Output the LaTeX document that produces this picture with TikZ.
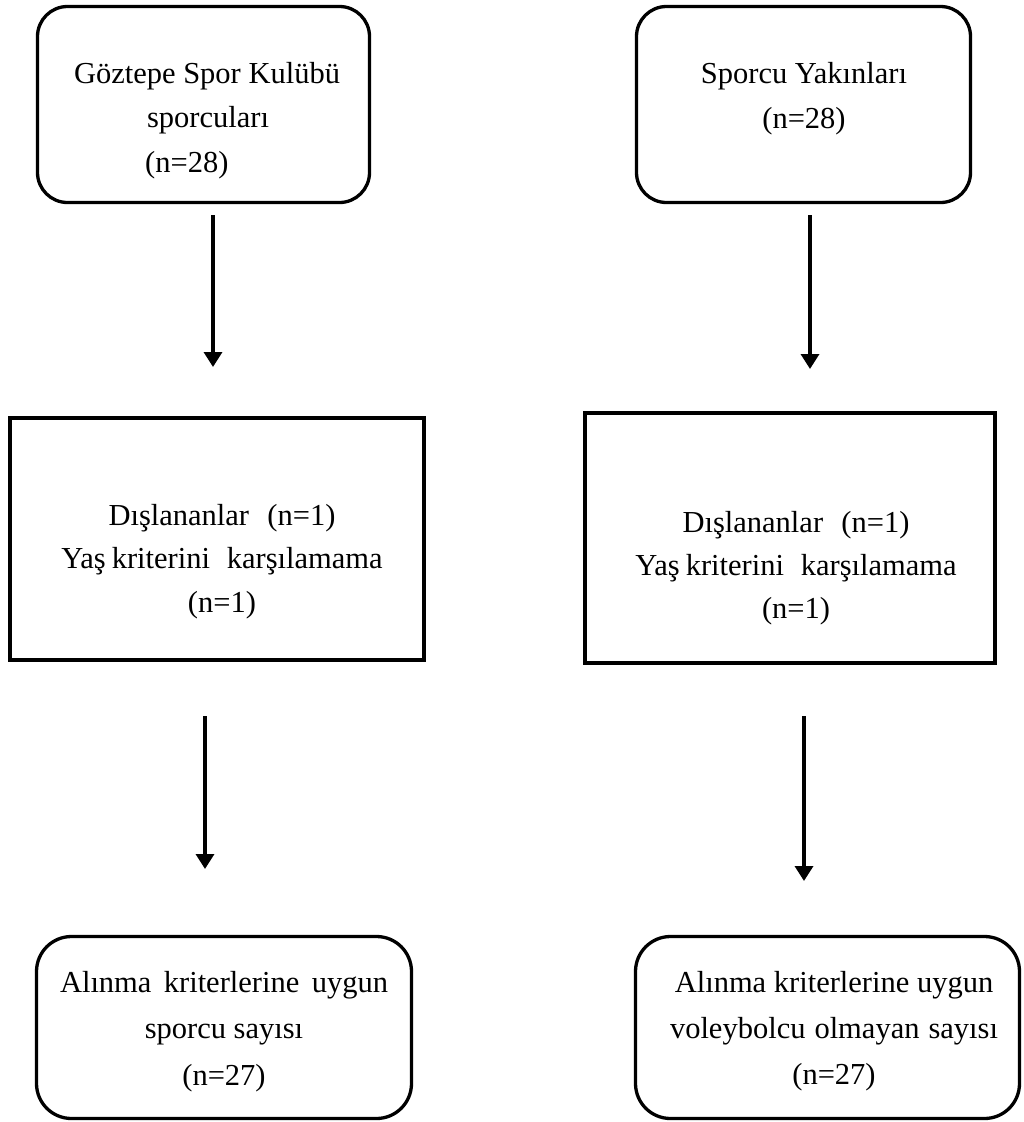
\documentclass[tikz,border=0pt]{standalone}
\usepackage{fontspec}
\setmainfont{Liberation Serif}
\usetikzlibrary{arrows.meta}
\begin{document}
\begin{tikzpicture}[x=1pt,y=-1pt,
  rbox/.style={draw=black,line width=3.3pt,rounded corners=30pt,inner sep=0pt,minimum width=#1},
  sbox/.style={draw=black,line width=4pt,inner sep=0pt,minimum width=#1},
  txt/.style={inner sep=0pt,anchor=base,font=\fontsize{30.5pt}{44pt}\selectfont},
  arr/.style={line width=3.4pt,-{Triangle[length=15pt,width=18pt]}}]
\useasboundingbox (0,0) rectangle (1024,1122);
% boxes
\node[rbox=332pt,minimum height=196pt] (tl) at (203.5,104.5) {};
\node[rbox=334pt,minimum height=196pt] (tr) at (803.5,104.5) {};
\node[sbox=414pt,minimum height=242pt] (ml) at (217,539) {};
\node[sbox=410pt,minimum height=250pt] (mr) at (790,538) {};
\node[rbox=375pt,minimum height=182pt,rounded corners=35pt] (bl) at (224,1027.5) {};
\node[rbox=384pt,minimum height=182pt,rounded corners=35pt] (br) at (827.5,1027.5) {};
% texts
\node[txt] (tl1) at (207,83) {Göztepe Spor Kulübü};
\node[txt] (tl2) at (208,127) {sporcuları};
\node[txt,anchor=base west] (tl3) at (145,172) {(n=28)};
\node[txt] (tr1) at (804,83) {Sporcu Yakınları};
\node[txt] (tr2) at (804,128) {(n=28)};
\node[txt] (ml1) at (222,525) {Dışlananlar\hspace{0.35em} (n=1)};
\node[txt] (ml2) at (222,568) {Yaş\hspace{-0.05em} kriterini\hspace{0.3em} karşılamama};
\node[txt] (ml3) at (222,612) {(n=1)};
\node[txt] (mr1) at (796,532) {Dışlananlar\hspace{0.35em} (n=1)};
\node[txt] (mr2) at (796,575) {Yaş\hspace{-0.05em} kriterini\hspace{0.3em} karşılamama};
\node[txt] (mr3) at (796,618) {(n=1)};
\node[txt] (bl1) at (224,992) {\makebox[328pt][s]{Alınma kriterlerine uygun}};
\node[txt] (bl2) at (224,1038) {sporcu sayısı};
\node[txt] (bl3) at (224,1085) {(n=27)};
\node[txt] (br1) at (834,992) {Alınma kriterlerine uygun};
\node[txt] (br2) at (834,1038) {\makebox[328pt][s]{voleybolcu olmayan sayısı}};
\node[txt] (br3) at (834,1084) {(n=27)};
% arrows
\coordinate (a1s) at (213,215); \coordinate (a1e) at (213,367);
\coordinate (a2s) at (810,215); \coordinate (a2e) at (810,369);
\coordinate (a3s) at (205,716); \coordinate (a3e) at (205,869);
\coordinate (a4s) at (804,716); \coordinate (a4e) at (804,881);
\draw[arr] (a1s) -- (a1e);
\draw[arr] (a2s) -- (a2e);
\draw[arr] (a3s) -- (a3e);
\draw[arr] (a4s) -- (a4e);
\end{tikzpicture}
\end{document}
